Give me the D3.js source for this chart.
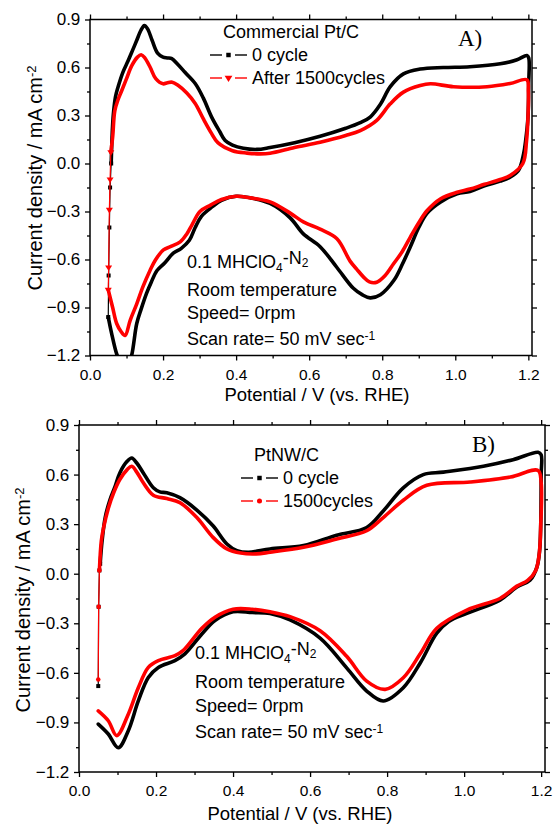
<!DOCTYPE html>
<html>
<head>
<meta charset="utf-8">
<script src="https://cdn.jsdelivr.net/npm/d3@7"></script>
<style>
  body { margin: 0; background: #fff; }
  svg { font-family: "Liberation Sans", Arial, sans-serif; }
  .tick text { font-size: 15.5px; fill: #000; }
  .yax .tick text { font-size: 17px; }
  .tick line { stroke: #000; stroke-width: 1.3; }
</style>
</head>
<body>
<div id="chart"></div>
<script>
// tick labels
var xTicks = [0.0, 0.2, 0.4, 0.6, 0.8, 1.0, 1.2];
var xMinor = [0.1, 0.3, 0.5, 0.7, 0.9, 1.1];
var yTicks = [-1.2, -0.9, -0.6, -0.3, 0.0, 0.3, 0.6, 0.9];
var yMinor = [-1.05, -0.75, -0.45, -0.15, 0.15, 0.45, 0.75];

// panel A: commercial Pt/C, 0 cycle (potential V, current mA cm-2)
var ptcZeroStart = [[0.05,-0.96],[0.051,-0.7],[0.053,-0.4],[0.055,-0.15],[0.058,0.0]];
var ptcZero = [[0.058,0.0],[0.061,0.2],[0.064,0.31],[0.07,0.42],[0.077,0.48],[0.09,0.57],[0.104,0.64],
  [0.117,0.71],[0.128,0.77],[0.14,0.835],[0.149,0.862],[0.158,0.84],[0.17,0.77],[0.185,0.69],[0.2,0.665],
  [0.212,0.66],[0.224,0.655],[0.24,0.62],[0.26,0.57],[0.288,0.5],[0.31,0.41],[0.333,0.29],[0.355,0.2],
  [0.37,0.144],[0.39,0.115],[0.42,0.095],[0.457,0.088],[0.493,0.1],[0.56,0.13],[0.63,0.17],[0.7,0.22],
  [0.74,0.255],[0.767,0.29],[0.795,0.37],[0.822,0.48],[0.858,0.56],[0.904,0.59],[0.967,0.6],[1.04,0.605],
  [1.123,0.623],[1.169,0.648],[1.196,0.675],[1.201,0.66],[1.201,0.5],[1.199,0.29],[1.193,0.15],
  [1.187,0.06],[1.173,-0.044],[1.15,-0.085],[1.123,-0.11],[1.08,-0.14],[1.04,-0.175],[1.005,-0.19],
  [0.96,-0.24],[0.923,-0.31],[0.9,-0.4],[0.877,-0.52],[0.855,-0.63],[0.832,-0.73],[0.795,-0.82],
  [0.767,-0.84],[0.745,-0.82],[0.721,-0.78],[0.676,-0.65],[0.63,-0.52],[0.584,-0.44],[0.548,-0.34],
  [0.493,-0.25],[0.44,-0.215],[0.40,-0.205],[0.36,-0.23],[0.335,-0.27],[0.305,-0.33],[0.288,-0.4],
  [0.272,-0.48],[0.25,-0.53],[0.228,-0.56],[0.205,-0.62],[0.183,-0.67],[0.168,-0.74],[0.155,-0.81],
  [0.14,-0.91],[0.128,-1.0],[0.114,-1.2],[0.1,-1.3],[0.084,-1.25],[0.073,-1.19],[0.059,-1.06],[0.05,-0.96]];

// panel A: after 1500 cycles
var ptcAgedStart = [[0.05,-0.79],[0.051,-0.65],[0.053,-0.29],[0.055,-0.1],[0.057,0.07]];
var ptcAged = [[0.057,0.07],[0.062,0.165],[0.068,0.33],[0.077,0.4],[0.087,0.456],[0.1,0.53],[0.114,0.61],
  [0.13,0.665],[0.14,0.68],[0.15,0.66],[0.165,0.6],[0.18,0.53],[0.2,0.498],[0.212,0.505],[0.225,0.508],
  [0.24,0.49],[0.265,0.44],[0.288,0.375],[0.31,0.28],[0.333,0.187],[0.35,0.13],[0.39,0.08],[0.43,0.065],
  [0.466,0.06],[0.493,0.064],[0.56,0.1],[0.63,0.133],[0.7,0.175],[0.74,0.206],[0.785,0.27],[0.822,0.373],
  [0.858,0.446],[0.904,0.487],[0.932,0.498],[0.995,0.48],[1.087,0.48],[1.15,0.5],[1.196,0.523],
  [1.2,0.45],[1.199,0.29],[1.195,0.14],[1.185,0.0],[1.15,-0.075],[1.123,-0.1],[1.08,-0.13],[1.04,-0.16],
  [1.005,-0.18],[0.96,-0.22],[0.923,-0.294],[0.9,-0.37],[0.877,-0.46],[0.855,-0.55],[0.831,-0.627],
  [0.808,-0.7],[0.785,-0.742],[0.765,-0.74],[0.749,-0.71],[0.73,-0.66],[0.712,-0.61],[0.676,-0.47],
  [0.63,-0.41],[0.584,-0.365],[0.548,-0.31],[0.493,-0.24],[0.44,-0.215],[0.40,-0.205],[0.36,-0.225],
  [0.33,-0.26],[0.301,-0.3],[0.28,-0.38],[0.265,-0.44],[0.247,-0.49],[0.22,-0.52],[0.201,-0.54],
  [0.18,-0.6],[0.164,-0.67],[0.145,-0.77],[0.128,-0.877],[0.11,-0.98],[0.096,-1.075],[0.085,-1.05],
  [0.073,-1.0],[0.062,-0.9],[0.05,-0.79]];

// panel B: PtNW/C, 0 cycle
var nwZeroStart = [[0.05,-0.68],[0.051,-0.2],[0.053,0.02],[0.055,0.06]];
var nwZero = [[0.055,0.06],[0.06,0.2],[0.068,0.34],[0.08,0.445],[0.094,0.53],[0.106,0.61],[0.125,0.68],
  [0.137,0.70],[0.15,0.67],[0.167,0.61],[0.193,0.52],[0.21,0.495],[0.228,0.49],[0.262,0.46],[0.306,0.385],
  [0.348,0.29],[0.384,0.18],[0.41,0.14],[0.44,0.13],[0.496,0.15],[0.583,0.17],[0.669,0.233],[0.747,0.28],
  [0.79,0.38],[0.842,0.52],[0.894,0.6],[0.946,0.615],[1.05,0.65],[1.127,0.69],[1.192,0.735],[1.2,0.72],
  [1.2,0.6],[1.199,0.3],[1.196,0.14],[1.189,0.04],[1.171,-0.04],[1.137,-0.08],[1.093,-0.16],[1.007,-0.24],
  [0.96,-0.29],[0.929,-0.36],[0.886,-0.54],[0.842,-0.69],[0.79,-0.77],[0.747,-0.71],[0.695,-0.57],
  [0.626,-0.39],[0.548,-0.28],[0.496,-0.24],[0.45,-0.235],[0.40,-0.23],[0.353,-0.283],[0.319,-0.365],
  [0.275,-0.485],[0.249,-0.526],[0.206,-0.567],[0.18,-0.628],[0.154,-0.77],[0.128,-0.95],[0.102,-1.053],
  [0.076,-0.97],[0.05,-0.91]];

// panel B: 1500 cycles
var nwAgedStart = [[0.05,-0.64],[0.051,-0.2],[0.053,0.02]];
var nwAged = [[0.053,0.02],[0.058,0.2],[0.064,0.28],[0.076,0.395],[0.09,0.49],[0.106,0.57],[0.125,0.63],
  [0.137,0.65],[0.15,0.615],[0.167,0.55],[0.193,0.475],[0.228,0.455],[0.262,0.43],[0.306,0.34],
  [0.348,0.22],[0.384,0.15],[0.42,0.125],[0.46,0.12],[0.496,0.13],[0.583,0.16],[0.669,0.21],[0.747,0.26],
  [0.79,0.34],[0.842,0.445],[0.903,0.535],[1.016,0.555],[1.12,0.585],[1.192,0.625],[1.2,0.55],
  [1.199,0.3],[1.195,0.12],[1.186,0.02],[1.165,-0.04],[1.137,-0.075],[1.093,-0.15],[1.007,-0.22],
  [0.929,-0.33],[0.886,-0.485],[0.842,-0.63],[0.795,-0.70],[0.747,-0.65],[0.695,-0.5],[0.626,-0.345],
  [0.548,-0.26],[0.496,-0.23],[0.45,-0.215],[0.40,-0.215],[0.353,-0.263],[0.319,-0.33],[0.27,-0.466],
  [0.249,-0.496],[0.206,-0.526],[0.18,-0.567],[0.154,-0.69],[0.128,-0.85],[0.098,-0.98],[0.076,-0.89],
  [0.05,-0.83]];

var triDown = {
  draw: function(ctx, size){
    var r = Math.sqrt(size / 1.3);
    ctx.moveTo(-r, -r * 0.6);
    ctx.lineTo(r, -r * 0.6);
    ctx.lineTo(0, r);
    ctx.closePath();
  }
};

var svg = d3.select('#chart').append('svg')
  .attr('width', 555)
  .attr('height', 827);

var drawPanel = function(opt){
  var x = d3.scaleLinear().domain([0, 1.21]).range([opt.left, opt.right]);
  var y = d3.scaleLinear().domain([-1.2, 0.9]).range([opt.bottom, opt.top]);
  var g = svg.append('g');
  var fmt = d3.format('.1f');

  var addAxis = function(axis, ticks, size, labels, tf){
    var a = g.append('g')
      .attr('transform', tf)
      .call(axis.tickValues(ticks).tickSize(size).tickFormat(labels ? fmt : ''));
    a.select('.domain').remove();
    return a;
  };
  addAxis(d3.axisBottom(x), xTicks, 5, true, 'translate(0,' + opt.bottom + ')')
    .selectAll('text').attr('dy', '1.05em');
  addAxis(d3.axisBottom(x), xMinor, 3, false, 'translate(0,' + opt.bottom + ')');
  addAxis(d3.axisTop(x), xTicks, 5, false, 'translate(0,' + opt.top + ')');
  addAxis(d3.axisTop(x), xMinor, 3, false, 'translate(0,' + opt.top + ')');
  addAxis(d3.axisLeft(y), yTicks, 5, true, 'translate(' + opt.left + ',0)')
    .attr('class', 'yax')
    .selectAll('text').attr('dx', '-0.1em');
  addAxis(d3.axisLeft(y), yMinor, 3, false, 'translate(' + opt.left + ',0)');
  addAxis(d3.axisRight(y), yTicks, 5, false, 'translate(' + opt.right + ',0)');
  addAxis(d3.axisRight(y), yMinor, 3, false, 'translate(' + opt.right + ',0)');

  // clip region
  svg.append('clipPath').attr('id', opt.id)
    .append('rect')
      .attr('x', opt.left).attr('y', opt.top)
      .attr('width', opt.right - opt.left).attr('height', opt.bottom - opt.top);

  var line = d3.line()
    .x(function(d){ return x(d[0]); })
    .y(function(d){ return y(d[1]); })
    .curve(d3.curveCatmullRom.alpha(0.5));
  var thin = d3.line()
    .x(function(d){ return x(d[0]); })
    .y(function(d){ return y(d[1]); });

  var plot = g.append('g').attr('clip-path', 'url(#' + opt.id + ')');
  opt.series.forEach(function(s){
    plot.append('path')
      .attr('d', thin(s.start))
      .attr('fill', 'none')
      .attr('stroke', s.color)
      .attr('stroke-width', 1.2);
    plot.selectAll(null).data(s.start).enter()
      .append('path')
        .attr('transform', function(d){ return 'translate(' + x(d[0]) + ',' + y(d[1]) + ')'; })
        .attr('d', d3.symbol().type(s.symbol).size(16))
        .attr('fill', s.color);
    plot.append('path')
      .attr('d', line(s.loop))
      .attr('fill', 'none')
      .attr('stroke', s.color)
      .attr('stroke-width', 3.6)
      .attr('stroke-linejoin', 'round')
      .attr('stroke-linecap', 'round');
  });

  // frame
  g.append('rect')
    .attr('x', opt.left).attr('y', opt.top)
    .attr('width', opt.right - opt.left).attr('height', opt.bottom - opt.top)
    .attr('fill', 'none')
    .attr('stroke', '#000')
    .attr('stroke-width', 1.5);

  // x axis label
  g.append('text')
    .attr('x', opt.xTitle[0])
    .attr('y', opt.xTitle[1])
    .style('text-anchor', 'middle')
    .style('font-size', '18.5px')
    .text('Potential / V (vs. RHE)');

  // y axis label
  var yl = g.append('text')
    .attr('transform', 'translate(' + opt.yTitle[0] + ',' + opt.yTitle[1] + ') rotate(-90)')
    .style('text-anchor', 'middle')
    .style('font-size', '20px');
  yl.append('tspan').text('Current density / mA cm');
  yl.append('tspan').attr('dy', '-0.45em').style('font-size', '13px').text('-2');

  // legend
  svg.append('text')
    .attr('x', opt.leg.x + 13).attr('y', opt.leg.y)
    .style('font-size', '18px')
    .text(opt.leg.title);
  opt.series.forEach(function(s, i){
    var ly = opt.leg.y + 23 * (i + 1) - 6;
    var lx = opt.leg.x;
    svg.append('line').attr('x1', lx).attr('x2', lx + 12).attr('y1', ly).attr('y2', ly)
      .attr('stroke', s.color).attr('stroke-width', 1.4);
    svg.append('line').attr('x1', lx + 25).attr('x2', lx + 37).attr('y1', ly).attr('y2', ly)
      .attr('stroke', s.color).attr('stroke-width', 1.4);
    svg.append('path')
      .attr('transform', 'translate(' + (lx + 18.5) + ',' + ly + ')')
      .attr('d', d3.symbol().type(s.symbol).size(20))
      .attr('fill', s.color);
    svg.append('text')
      .attr('x', lx + 42).attr('y', ly + 6)
      .style('font-size', '18px')
      .text(s.name);
  });

  // panel letter
  svg.append('text')
    .attr('x', opt.letter[0]).attr('y', opt.letter[1])
    .style('font-family', '"Liberation Serif", "Times New Roman", serif')
    .style('font-size', '23px')
    .text(opt.letterText);

  // conditions
  var nx = opt.note[0], ny = opt.note[1];
  var t1 = svg.append('text').attr('x', nx).attr('y', ny).style('font-size', '18px');
  t1.append('tspan').text('0.1 MHClO');
  t1.append('tspan').attr('dy', '0.3em').style('font-size', '12px').text('4');
  t1.append('tspan').attr('dy', '-0.45em').text('-N');
  t1.append('tspan').attr('dy', '0.3em').style('font-size', '12px').text('2');
  svg.append('text').attr('x', nx).attr('y', ny + opt.noteGap[0]).style('font-size', '18px')
    .text('Room temperature');
  svg.append('text').attr('x', nx).attr('y', ny + opt.noteGap[1]).style('font-size', '18px')
    .text('Speed= 0rpm');
  var t4 = svg.append('text').attr('x', nx).attr('y', ny + opt.noteGap[2]).style('font-size', '18px');
  t4.append('tspan').text('Scan rate= 50 mV sec');
  t4.append('tspan').attr('dy', '-0.45em').style('font-size', '12px').text('-1');
};

drawPanel({
  id: 'clipA', left: 90, right: 532, top: 19.5, bottom: 355.5,
  xTitle: [317, 401], yTitle: [42, 178],
  leg: { x: 210, y: 38, title: 'Commercial Pt/C' },
  letter: [458, 46], letterText: 'A)',
  note: [187, 268], noteGap: [28, 51, 77],
  series: [
    { name: '0 cycle', color: '#000', symbol: d3.symbolSquare, start: ptcZeroStart, loop: ptcZero },
    { name: 'After 1500cycles', color: '#ff0000', symbol: triDown, start: ptcAgedStart, loop: ptcAged }
  ]
});

drawPanel({
  id: 'clipB', left: 79, right: 545, top: 425, bottom: 772,
  xTitle: [300, 820], yTitle: [30, 600],
  leg: { x: 241, y: 461, title: 'PtNW/C' },
  letter: [472, 452], letterText: 'B)',
  note: [195, 659], noteGap: [29, 53, 79],
  series: [
    { name: '0 cycle', color: '#000', symbol: d3.symbolSquare, start: nwZeroStart, loop: nwZero },
    { name: '1500cycles', color: '#ff0000', symbol: d3.symbolCircle, start: nwAgedStart, loop: nwAged }
  ]
});
</script>
</body>
</html>
